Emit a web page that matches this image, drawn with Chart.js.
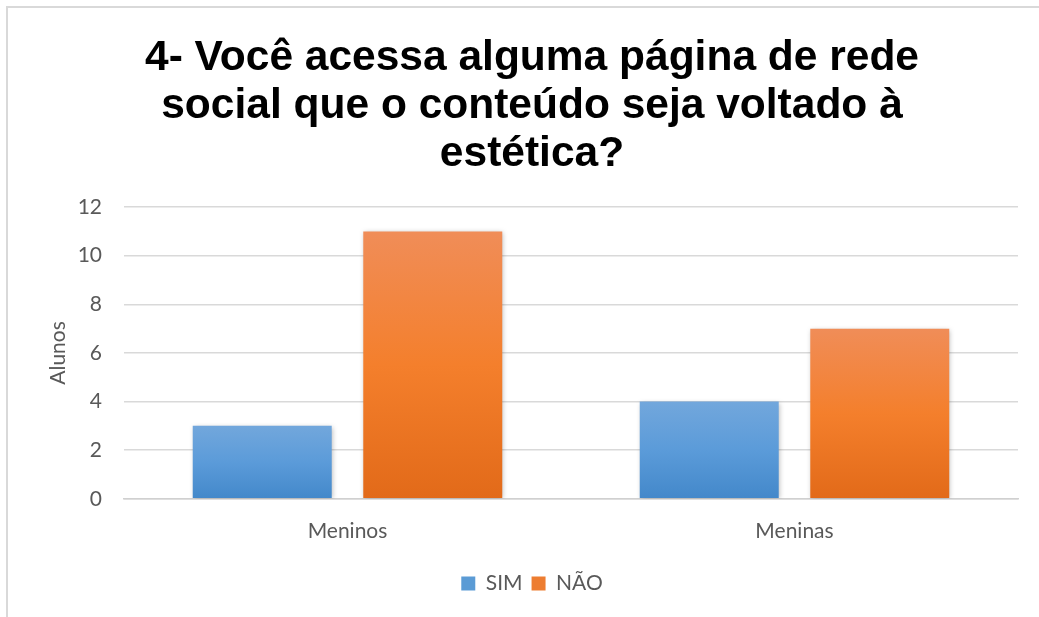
<!DOCTYPE html>
<html>
<head>
<meta charset="utf-8">
<script src="https://cdn.jsdelivr.net/npm/chart.js@4.4.1/dist/chart.umd.min.js"></script>
<style>
  html, body { margin: 0; padding: 0; background: #ffffff; }
  #wrap { position: relative; width: 1039px; height: 617px; }
  canvas { display: block; }
</style>
</head>
<body>
<div id="wrap"><canvas id="c" width="1039" height="617"></canvas></div>
<script>
const titleLines = ["4- Você acessa alguma página de rede", "social que o conteúdo seja voltado à", "estética?"];
const categories = ["Meninos", "Meninas"];
const simValues = [3, 4];
const naoValues = [11, 7];
const yTicks = [0, 2, 4, 6, 8, 10, 12];
const yAxisTitle = "Alunos";
const seriesNames = ["SIM", "NÃO"];

const palettes = {
  blue: { top: "#72a7dc", mid: "#5b9bd9", bottom: "#4388ca", flat: "#5b9bd5" },
  orange: { top: "#f08d58", mid: "#f47f2c", bottom: "#e26a19", flat: "#ed7d31" }
};

function barGradient(pal) {
  return function (ctx) {
    const chart = ctx.chart;
    if (!chart.chartArea || !chart.scales.y || ctx.type !== 'data') return pal.flat;
    const v = ctx.raw;
    const y0 = chart.scales.y.getPixelForValue(0);
    const y1 = chart.scales.y.getPixelForValue(v);
    if (!isFinite(y0) || !isFinite(y1) || y0 === y1) return pal.flat;
    const g = chart.ctx.createLinearGradient(0, y1, 0, y0);
    g.addColorStop(0, pal.top);
    g.addColorStop(0.5, pal.mid);
    g.addColorStop(1, pal.bottom);
    return g;
  };
}

const framePlugin = {
  id: 'frame',
  beforeDraw(chart) {
    const c = chart.ctx;
    c.save();
    c.fillStyle = '#ffffff';
    c.fillRect(0, 0, chart.width, chart.height);
    c.strokeStyle = '#d9d9d9';
    c.lineWidth = 2;
    c.beginPath();
    c.moveTo(7, chart.height);
    c.lineTo(7, 7);
    c.lineTo(chart.width, 7);
    c.stroke();
    c.restore();
  }
};

const shadowPlugin = {
  id: 'barShadow',
  beforeDatasetsDraw(chart) {
    const c = chart.ctx;
    c.save();
    c.shadowColor = 'rgba(0,0,0,0.28)';
    c.shadowBlur = 5;
    c.shadowOffsetX = 1;
    c.shadowOffsetY = 1;
  },
  afterDatasetsDraw(chart) {
    chart.ctx.restore();
  }
};

const tickFont = { family: "Lato, 'Open Sans', sans-serif", size: 21 };

new Chart(document.getElementById('c'), {
  type: 'bar',
  data: {
    labels: categories,
    datasets: [
      { label: seriesNames[0], data: simValues, backgroundColor: barGradient(palettes.blue), borderWidth: 0, categoryPercentage: 0.763, barPercentage: 0.815 },
      { label: seriesNames[1], data: naoValues, backgroundColor: barGradient(palettes.orange), borderWidth: 0, categoryPercentage: 0.763, barPercentage: 0.815 }
    ]
  },
  options: {
    responsive: false,
    animation: false,
    devicePixelRatio: 1,
    layout: { padding: { left: 46, right: 21, top: 22, bottom: 13 } },
    plugins: {
      title: {
        display: true,
        text: titleLines,
        color: '#000000',
        font: { family: "'Liberation Sans', Arial, sans-serif", size: 42.5, weight: 'bold', lineHeight: 1.13 },
        padding: { top: 12, bottom: 29 }
      },
      legend: {
        position: 'bottom',
        labels: {
          color: '#595959',
          font: tickFont,
          boxWidth: 14,
          boxHeight: 14,
          padding: 9,
          generateLabels(chart) {
            return chart.data.datasets.map((ds, i) => ({
              text: ds.label,
              fillStyle: i === 0 ? palettes.blue.flat : palettes.orange.flat,
              strokeStyle: 'rgba(0,0,0,0)',
              lineWidth: 0,
              hidden: false,
              datasetIndex: i,
              fontColor: '#595959'
            }));
          }
        }
      },
      tooltip: { enabled: false }
    },
    scales: {
      x: {
        grid: { display: false, drawTicks: false },
        border: { display: true, color: '#d0d0d0', width: 1.5 },
        ticks: { color: '#595959', font: tickFont, padding: 20 }
      },
      y: {
        min: 0,
        max: 12,
        afterBuildTicks(scale) { scale.ticks = yTicks.map(v => ({ value: v })); },
        afterFit(scale) { scale.width = 78; },
        grid: { color: '#d9d9d9', lineWidth: 1.5, drawTicks: false },
        border: { display: false },
        ticks: { color: '#595959', font: tickFont, padding: 22 },
        title: { display: true, text: yAxisTitle, color: '#595959', font: tickFont, padding: { top: 0, bottom: 4 } }
      }
    }
  },
  plugins: [framePlugin, shadowPlugin]
});
</script>
</body>
</html>
